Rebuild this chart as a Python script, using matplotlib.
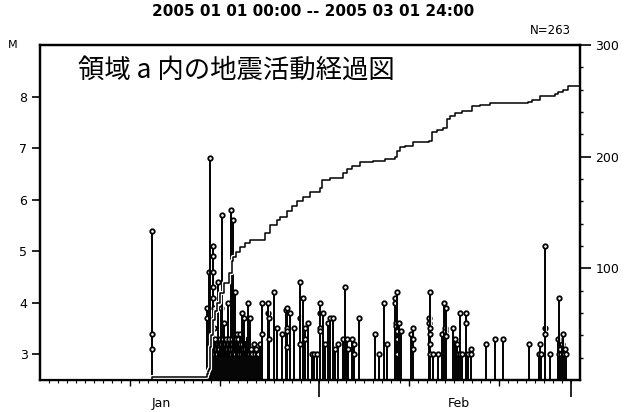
import matplotlib
matplotlib.use("Agg")
import matplotlib.pyplot as plt
import matplotlib.patheffects as pe
import numpy as np

# 経過日数 (2005-01-01 00:00 = 0) とマグニチュード
jan13_day = [12.40, 12.41, 12.43]
jan13_mag = [5.4, 3.4, 3.1]

# 1月19日からの群発 (目立つもの)
swarm_day = [18.52, 18.56, 18.78, 18.89, 19.19, 19.20, 19.22, 19.24, 19.26, 19.28,
             19.30, 19.32, 19.74, 20.11, 20.26, 20.48, 20.86, 21.22, 21.48, 21.67,
             21.92, 22.22, 22.41, 22.70, 23.14, 23.33, 23.41]
swarm_mag = [3.9, 3.7, 4.6, 6.8, 5.1, 4.9, 4.6, 4.3, 4.1, 3.9,
             3.7, 3.5, 4.4, 3.9, 5.7, 3.6, 4.0, 5.8, 5.6, 4.2,
             3.4, 3.4, 3.8, 3.7, 4.0, 3.7, 3.0]

# 群発中の小さい地震
small_day = [19.05, 19.12, 19.29, 19.35, 19.42, 19.50, 19.58, 19.63, 19.80, 19.88,
             19.95, 20.03, 20.18, 20.33, 20.40, 20.55, 20.62, 20.70, 20.78, 20.93,
             21.00, 21.08, 21.15, 21.30, 21.37, 21.55, 21.60, 21.75, 21.82, 21.98,
             22.05, 22.12, 22.30, 22.48, 22.55, 22.62, 22.78, 22.85, 22.92, 23.00,
             23.07, 23.22, 23.50, 23.60, 23.75, 23.90, 24.05, 24.20]
small_mag = [3.1, 3.2, 3.0, 3.2, 3.1, 3.3, 3.0, 3.2, 3.1, 3.2,
             3.0, 3.3, 3.1, 3.2, 3.0, 3.2, 3.1, 3.3, 3.0, 3.2,
             3.1, 3.2, 3.0, 3.3, 3.1, 3.2, 3.0, 3.2, 3.1, 3.3,
             3.0, 3.2, 3.1, 3.2, 3.0, 3.3, 3.1, 3.2, 3.0, 3.2,
             3.1, 3.0, 3.1, 3.0, 3.2, 3.0, 3.1, 3.0]
small2_day = [19.08, 19.15, 19.38, 19.46, 19.54, 19.70, 19.84, 19.92, 19.99, 20.07,
              20.14, 20.22, 20.29, 20.37, 20.44, 20.52, 20.59, 20.66, 20.74, 20.82,
              20.89, 20.97, 21.04, 21.11, 21.19, 21.26, 21.34, 21.41, 21.51, 21.64,
              21.71, 21.79, 21.86, 21.95, 22.02, 22.09, 22.16, 22.26, 22.34, 22.44,
              22.52, 22.59, 22.66, 22.74, 22.82, 22.89, 22.96, 23.04, 23.10, 23.18]
small2_mag = [3.0, 3.1, 3.0, 3.2, 3.1, 3.0, 3.2, 3.1, 3.2, 3.0,
              3.2, 3.0, 3.1, 3.3, 3.1, 3.0, 3.2, 3.0, 3.2, 3.1,
              3.0, 3.3, 3.0, 3.1, 3.2, 3.0, 3.2, 3.0, 3.1, 3.2,
              3.0, 3.3, 3.1, 3.0, 3.2, 3.1, 3.0, 3.2, 3.0, 3.1,
              3.3, 3.1, 3.0, 3.2, 3.1, 3.2, 3.0, 3.1, 3.2, 3.0]

# 1月25日以降
late_day = [24.44, 24.70, 24.72, 25.35, 25.37, 25.39, 25.40, 26.00, 26.30, 26.92,
            27.38, 27.41, 27.43, 27.44, 27.45, 27.78, 28.26, 28.87, 28.89, 28.91,
            29.19, 29.44, 29.46, 29.81, 30.22, 30.50, 30.78, 31.09, 31.11, 31.12,
            31.14, 31.48, 31.67, 31.97, 32.17, 32.56, 32.78, 33.14, 33.70, 33.89,
            34.08, 34.26, 34.63, 34.89, 34.90, 35.48, 37.26, 37.67, 38.26, 38.59,
            39.44, 39.50, 39.55, 39.60, 39.63, 39.65, 39.68, 39.70, 39.92, 40.11,
            41.22, 41.41, 41.43, 41.45, 43.25, 43.27, 43.28, 43.30, 43.32, 43.34,
            43.35, 43.70, 44.19, 44.70, 44.89, 45.00, 45.05, 45.08, 45.10, 45.92,
            46.11, 46.37, 46.44, 46.67, 46.70, 46.86, 47.33, 47.35, 47.59, 47.89,
            47.92, 49.56, 50.56, 51.48, 54.33, 55.48, 55.56, 55.67, 56.10, 56.11,
            56.13, 56.67, 57.59, 57.67, 57.72, 57.78, 57.90, 58.00, 58.14, 58.25,
            58.33, 58.44]
late_mag = [3.2, 4.0, 3.4, 3.8, 4.0, 3.7, 3.3, 4.2, 3.5, 3.4,
            3.85, 3.9, 3.5, 3.45, 3.15, 3.8, 3.5, 3.7, 4.4, 3.2,
            4.1, 3.5, 3.3, 3.6, 3.0, 3.0, 3.0, 3.8, 4.0, 3.5,
            3.45, 3.8, 3.2, 3.6, 3.7, 3.7, 3.1, 3.2, 3.3, 4.3,
            3.3, 3.1, 3.3, 3.2, 3.0, 3.7, 3.4, 3.0, 4.0, 3.2,
            4.1, 4.0, 3.6, 3.55, 4.2, 3.45, 3.3, 3.0, 3.6, 3.45,
            3.4, 3.5, 3.3, 3.1, 3.7, 3.6, 4.2, 3.5, 3.4, 3.2,
            3.0, 3.0, 3.0, 3.4, 4.0, 3.5, 3.45, 3.9, 3.35, 3.5,
            3.3, 3.2, 3.0, 3.8, 3.0, 3.0, 3.8, 3.6, 3.0, 3.1,
            3.0, 3.2, 3.3, 3.3, 3.2, 3.0, 3.2, 3.0, 3.5, 5.1,
            3.4, 3.0, 3.3, 4.1, 3.0, 3.1, 3.0, 3.2, 3.4, 3.0,
            3.1, 3.0]

# 積算回数 (右軸)
cum_day = [0.0, 12.44, 18.56, 18.72, 18.78, 18.89, 19.00, 19.22, 19.44, 19.67,
           20.00, 20.44, 21.00, 21.30, 21.44, 21.78, 22.22, 22.78, 23.33, 24.67,
           25.00, 25.56, 26.30, 26.67, 27.41, 28.00, 28.56, 29.22, 30.00, 31.11,
           31.30, 32.22, 33.67, 34.08, 34.67, 35.56, 37.00, 38.33, 39.44, 39.67,
           40.00, 40.56, 41.44, 43.22, 43.52, 44.11, 44.78, 45.19, 45.56, 46.11,
           46.89, 47.97, 48.89, 50.00, 54.22, 54.67, 55.56, 56.67, 57.22, 57.56,
           58.11, 58.67, 60.00]
cum_n = [0, 3, 5, 8, 10, 30, 40, 54, 62, 69,
         78, 87, 96, 107, 110, 115, 119, 123, 125, 125,
         132, 139, 143, 146, 151, 156, 160, 164, 168, 172,
         179, 181, 185, 189, 192, 195, 196, 198, 200, 205,
         209, 210, 213, 214, 222, 224, 226, 234, 236, 239,
         241, 245, 246, 248, 249, 251, 254, 254, 256, 258,
         260, 263, 263]

month_label_day = [13.5, 46.5]
month_labels = ["Jan", "Feb"]
month_start_day = [31, 59]
dekad_day = [10, 20, 41, 51]

days = np.array(jan13_day + swarm_day + small_day + small2_day + late_day)
mags = np.array(jan13_mag + swarm_mag + small_mag + small2_mag + late_mag)
order = np.argsort(days, kind="stable")

fig = plt.figure(figsize=(6.41, 4.12), dpi=100)
ax = fig.add_axes([40 / 641, 1 - 380 / 412, 540 / 641, 335 / 412])

halo = [pe.Stroke(linewidth=2.0, foreground="white"), pe.Normal()]
# 時刻順に棒と丸を重ねていく
for i in order:
    ax.plot([days[i], days[i]], [2.5, mags[i]], color="k", linewidth=1.4,
            path_effects=halo)
    ax.plot(days[i], mags[i], "o", ms=3.2, mfc="white", mec="k", mew=1.3)

ax.set_xlim(0, 60)
ax.set_ylim(2.5, 9.0)
ax.set_yticks([3, 4, 5, 6, 7, 8])
ax.tick_params(axis="y", length=6, width=1.2, labelsize=9, pad=3)
ax.set_xticks(dekad_day)
ax.set_xticks(np.arange(1, 60), minor=True)
ax.set_xticklabels([])
ax.tick_params(axis="x", which="major", length=4, width=1.0)
ax.tick_params(axis="x", which="minor", length=2, width=0.8)

# 月の区切り
sec = ax.secondary_xaxis("bottom")
sec.set_xticks(month_start_day)
sec.set_xticklabels([])
sec.tick_params(length=12, width=1.2)
sec.spines["bottom"].set_visible(False)
lab = ax.secondary_xaxis("bottom")
lab.set_xticks(month_label_day)
lab.set_xticklabels(month_labels)
lab.tick_params(length=0, labelsize=9, pad=12)
lab.spines["bottom"].set_visible(False)

for s in ax.spines.values():
    s.set_linewidth(1.6)

ax2 = ax.twinx()
ax2.step(cum_day, cum_n, where="post", color="k", linewidth=1.1,
         path_effects=[pe.Stroke(linewidth=3.0, foreground="white"), pe.Normal()])
ax2.set_ylim(0, 300)
ax2.set_yticks([100, 200, 300])
ax2.set_yticks([v for v in range(20, 300, 20) if v % 100], minor=True)
ax2.tick_params(axis="y", which="major", length=8, width=1.2, labelsize=9, pad=3)
ax2.tick_params(axis="y", which="minor", length=2.5, width=1.0)
for s in ax2.spines.values():
    s.set_linewidth(1.6)

fig.text(313 / 641, 1 - 12 / 412, "2005 01 01 00:00 -- 2005 03 01 24:00",
         ha="center", va="center", fontsize=11, fontweight="bold")
fig.text(571 / 641, 1 - 30 / 412, "N=263", ha="right", va="center", fontsize=8.5)
fig.text(13 / 641, 1 - 45 / 412, "M", ha="center", va="center", fontsize=8)
fig.text(78 / 641, 1 - 70 / 412, "領域 a 内の地震活動経過図", ha="left", va="center",
         fontsize=19, family=["Noto Sans CJK JP", "DejaVu Sans"])

fig.savefig("out.png", dpi=100)
